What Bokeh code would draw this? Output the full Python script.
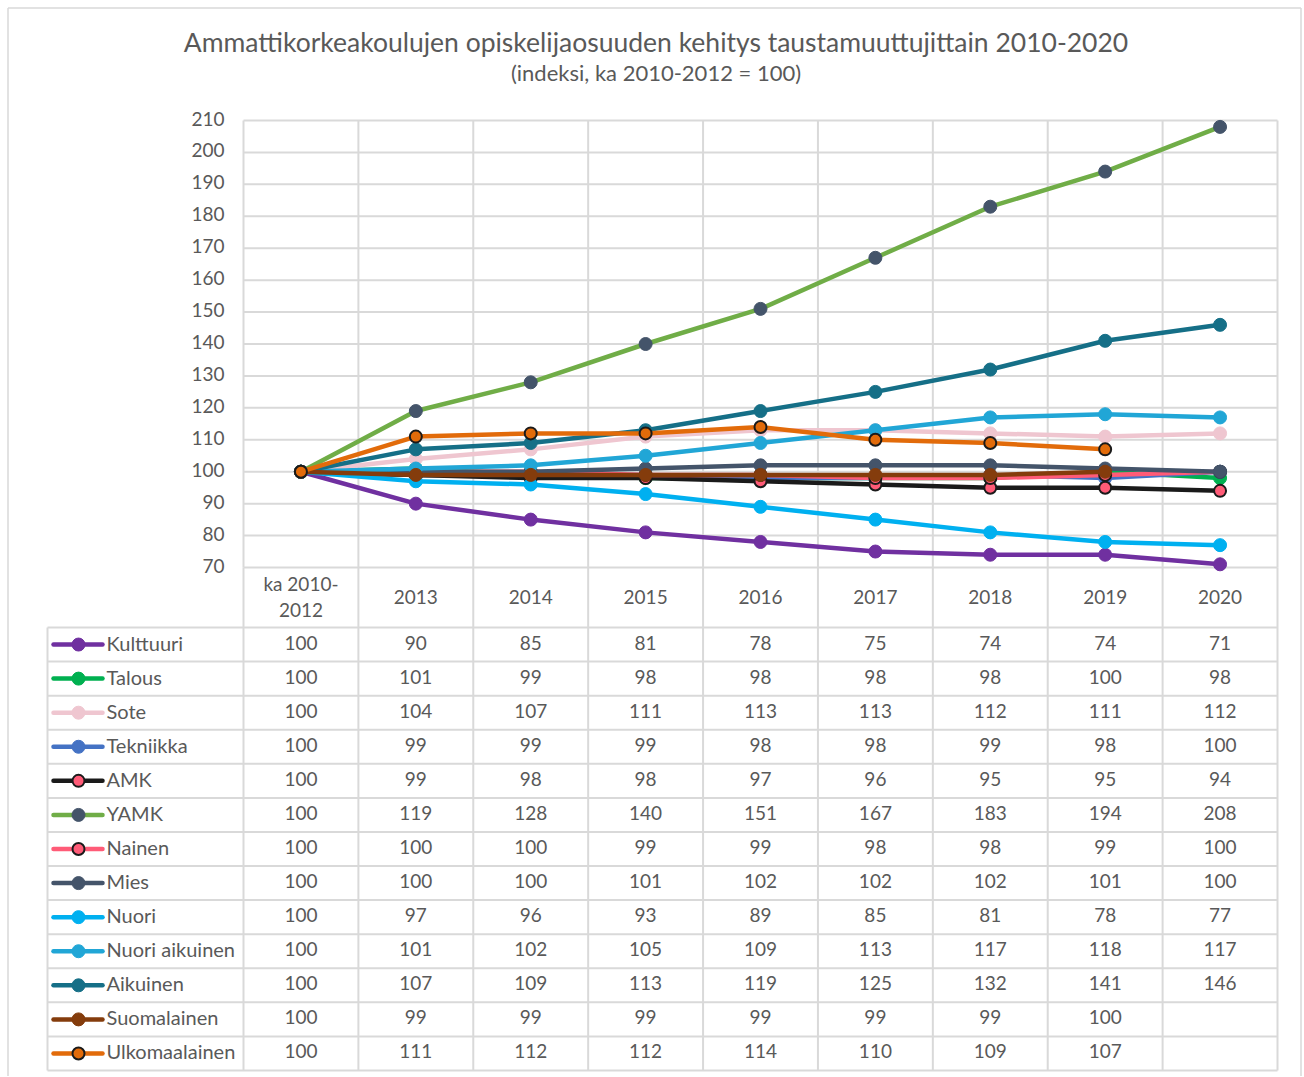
from bokeh.plotting import figure
from bokeh.models import Range1d
from bokeh.core.properties import value
from bokeh.embed import file_html
from bokeh.resources import INLINE

# ---------------- data ----------------
title_text = "Ammattikorkeakoulujen opiskelijaosuuden kehitys taustamuuttujittain 2010-2020"
subtitle_text = "(indeksi, ka 2010-2012 = 100)"
categories = ["ka 2010-\n2012", "2013", "2014", "2015", "2016", "2017", "2018", "2019", "2020"]
series_names = ["Kulttuuri", "Talous", "Sote", "Tekniikka", "AMK", "YAMK", "Nainen", "Mies",
                "Nuori", "Nuori aikuinen", "Aikuinen", "Suomalainen", "Ulkomaalainen"]
kulttuuri = [100, 90, 85, 81, 78, 75, 74, 74, 71]
talous = [100, 101, 99, 98, 98, 98, 98, 100, 98]
sote = [100, 104, 107, 111, 113, 113, 112, 111, 112]
tekniikka = [100, 99, 99, 99, 98, 98, 99, 98, 100]
amk = [100, 99, 98, 98, 97, 96, 95, 95, 94]
yamk = [100, 119, 128, 140, 151, 167, 183, 194, 208]
nainen = [100, 100, 100, 99, 99, 98, 98, 99, 100]
mies = [100, 100, 100, 101, 102, 102, 102, 101, 100]
nuori = [100, 97, 96, 93, 89, 85, 81, 78, 77]
nuori_aikuinen = [100, 101, 102, 105, 109, 113, 117, 118, 117]
aikuinen = [100, 107, 109, 113, 119, 125, 132, 141, 146]
suomalainen = [100, 99, 99, 99, 99, 99, 99, 100, None]
ulkomaalainen = [100, 111, 112, 112, 114, 110, 109, 107, None]
y_ticks = [70, 80, 90, 100, 110, 120, 130, 140, 150, 160, 170, 180, 190, 200, 210]

series_values = [kulttuuri, talous, sote, tekniikka, amk, yamk, nainen, mies,
                 nuori, nuori_aikuinen, aikuinen, suomalainen, ulkomaalainen]

# styles: (line colour, marker fill, marker outline)
styles = [
    ("#7030A0", "#7030A0", None),
    ("#00B050", "#00B050", None),
    ("#EFC6D0", "#EFC6D0", None),
    ("#4472C4", "#4472C4", None),
    ("#1A1A1A", "#FF5B77", "#1A1A1A"),
    ("#70AD47", "#44546A", None),
    ("#FF5B77", "#FF5B77", "#1A1A1A"),
    ("#44546A", "#44546A", None),
    ("#00B0F0", "#00B0F0", None),
    ("#21A6D6", "#21A6D6", None),
    ("#156F87", "#156F87", None),
    ("#843C0C", "#843C0C", None),
    ("#E26B0A", "#E26B0A", "#1A1A1A"),
]

FONT = "Lato"
TXT = "#595959"
GRID = "#D9D9D9"
LW = 4.5
TY = -2   # small vertical nudge for texts (px)

# ---------------- geometry (page pixels) ----------------
OFF = 0                      # observed page origin
W, H = 1302, 1076
PX_L, PX_R = 243, 1277       # chart frame left / right
PX_T, PX_B = 120, 567        # chart 210 / 70
unit = (PX_R - PX_L) / 9.0
sy = (PX_B - PX_T) / 140.0
LEFT_COL = 196
ROW_TOP = 627
ROW_BOT = 1070
rowpx = (ROW_BOT - ROW_TOP) / 13.0


def ux(px):
    return (px - PX_L) / unit


def uy(px):
    return 70 + (PX_B - px) / sy


def ur(px):
    return (px - ROW_TOP) / rowpx


p = figure(width=W, height=H,
           x_range=Range1d(ux(OFF), ux(OFF + W)),
           y_range=Range1d(uy(OFF + H), uy(OFF)),
           output_backend="svg", toolbar_location=None,
           min_border_left=0, min_border_right=0, min_border_top=0, min_border_bottom=0)
p.extra_y_ranges = {"tbl": Range1d(ur(OFF + H), ur(OFF))}
p.title = None
p.axis.visible = False
p.grid.visible = False
p.outline_line_color = None
p.background_fill_color = "white"
p.border_fill_color = "white"

ncat = len(categories)
n = len(series_names)
hdr = ur(PX_B)
left_edge = -LEFT_COL / unit

# ---- outer chart border ----
bx0, bx1, by0, by1 = ux(7.5), ux(1300.5), uy(7.5), uy(OFF + H + 5)
p.segment(x0=[bx0, bx0, bx1], y0=[by1, by0, by0], x1=[bx0, bx1, bx1], y1=[by0, by0, by1],
          line_color=GRID, line_width=1.5)

# ---- grid lines ----
p.segment(x0=[0] * len(y_ticks), y0=y_ticks, x1=[ncat] * len(y_ticks), y1=y_ticks,
          line_color=GRID, line_width=2)
p.segment(x0=list(range(ncat + 1)), y0=[y_ticks[0]] * (ncat + 1),
          x1=list(range(ncat + 1)), y1=[y_ticks[-1]] * (ncat + 1), line_color=GRID, line_width=2)
p.segment(x0=list(range(ncat + 1)), y0=[hdr] * (ncat + 1),
          x1=list(range(ncat + 1)), y1=[n] * (ncat + 1), line_color=GRID, line_width=2,
          y_range_name="tbl")
p.segment(x0=[left_edge], y0=[0], x1=[left_edge], y1=[n], line_color=GRID, line_width=2,
          y_range_name="tbl")
p.segment(x0=[left_edge] * (n + 1), y0=list(range(n + 1)), x1=[ncat] * (n + 1),
          y1=list(range(n + 1)), line_color=GRID, line_width=2, y_range_name="tbl")

# ---- y tick labels ----
p.text(x=[ux(224)] * len(y_ticks), y=y_ticks, text=[str(v) for v in y_ticks],
       text_align="right", text_baseline="middle", text_font=value(FONT), y_offset=TY,
       text_font_size=value("19px"), text_color=TXT)

# ---- titles ----
p.text(x=[ux(655.5)], y=[uy(43)], text=[title_text], text_align="center", text_baseline="middle",
       text_font=value(FONT), text_font_size=value("26.5px"), text_color=TXT, y_offset=TY)
p.text(x=[ux(655.5)], y=[uy(75)], text=[subtitle_text], text_align="center", y_offset=TY - 1,
       text_baseline="middle", text_font=value(FONT), text_font_size=value("22px"), text_color=TXT)

# ---- series ----
for vals, (lc, mf, mo) in zip(series_values, styles):
    xs = [i + 0.5 for i, v in enumerate(vals) if v is not None]
    ys = [v for v in vals if v is not None]
    p.line(xs, ys, line_color=lc, line_width=LW, line_join="round", line_cap="round")
    if mo is None:
        p.scatter(xs, ys, size=13, fill_color=mf, line_color=mf, line_width=1)
    else:
        p.scatter(xs, ys, size=12, fill_color=mf, line_color=mo, line_width=2)

# ---- table header ----
p.text(x=[i + 0.5 for i in range(ncat)], y=[hdr / 2] * ncat, text=categories,
       text_align="center", text_baseline="middle", text_font=value(FONT), y_offset=TY + 1,
       text_font_size=value("19px"), text_color=TXT, text_line_height=1.15, y_range_name="tbl")

# ---- table values ----
vx, vy, vt = [], [], []
for r, vals in enumerate(series_values):
    for i, v in enumerate(vals):
        if v is not None:
            vx.append(i + 0.5)
            vy.append(r + 0.5)
            vt.append(str(v))
p.text(x=vx, y=vy, text=vt, text_align="center", text_baseline="middle", y_offset=TY,
       text_font=value(FONT), text_font_size=value("19px"), text_color=TXT, y_range_name="tbl")

# ---- legend keys ----
kx0 = left_edge + 6 / unit
kx1 = left_edge + 55 / unit
kxm = left_edge + 31 / unit
ktx = left_edge + 59 / unit
for r, (lc, mf, mo) in enumerate(styles):
    p.segment(x0=[kx0], y0=[r + 0.5], x1=[kx1], y1=[r + 0.5], line_color=lc, line_width=LW,
              line_cap="round", y_range_name="tbl")
    if mo is None:
        p.scatter([kxm], [r + 0.5], size=13, fill_color=mf, line_color=mf, y_range_name="tbl")
    else:
        p.scatter([kxm], [r + 0.5], size=12, fill_color=mf, line_color=mo, line_width=2,
                  y_range_name="tbl")
p.text(x=[ktx] * n, y=[r + 0.5 for r in range(n)], text=series_names, text_align="left",
       text_baseline="middle", text_font=value(FONT), text_font_size=value("20px"), text_color=TXT,
       y_offset=TY, y_range_name="tbl")

open("out.html", "w").write(file_html(p, INLINE))
